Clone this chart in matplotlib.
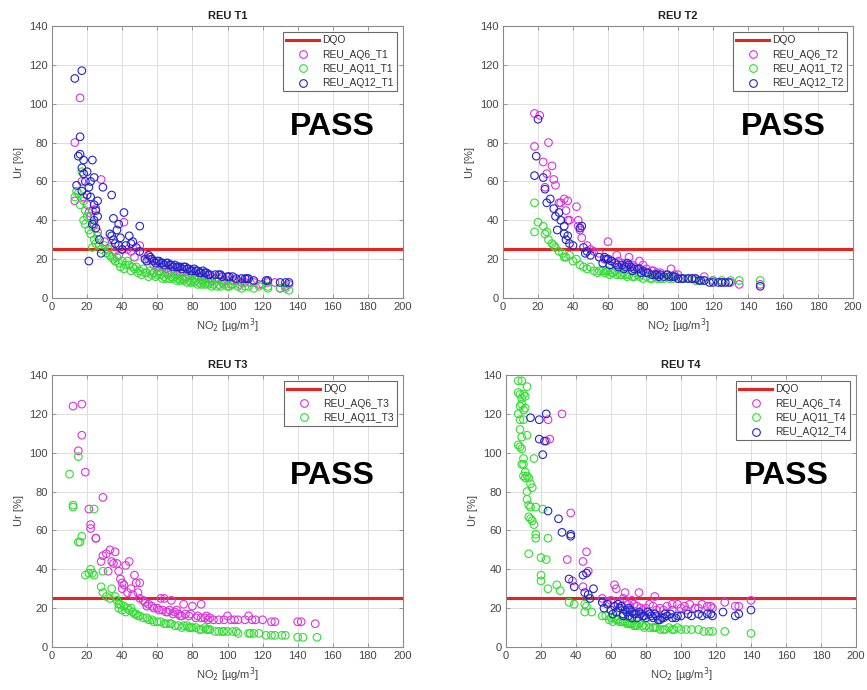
import matplotlib
matplotlib.use("Agg")
import matplotlib.pyplot as plt
from matplotlib.lines import Line2D

plt.rcParams['font.family'] = ['Liberation Sans', 'DejaVu Sans']

DQO = 25
XLIM = (0, 200)
YLIM = (0, 140)
XTICKS = list(range(0, 201, 20))
YTICKS = list(range(0, 141, 20))

# ---------------- T1 ----------------
t1_aq6_x = [13, 16, 13, 17, 28, 23, 21, 25, 41, 40, 43, 50, 47, 45, 55, 52, 18, 20, 22, 24, 26, 30, 33, 36, 38,
            58, 60, 63, 65, 68, 70, 73, 75, 78, 80, 83, 85, 88, 90, 93, 95, 98, 100, 103, 105, 108, 110, 113, 115,
            118, 120, 123, 127, 130, 133, 135, 61, 66, 71, 76, 81, 86, 91, 97, 102, 107]
t1_aq6_y = [80, 103, 50, 60, 61, 45, 44, 46, 39, 25, 25, 27, 21, 24, 20, 23, 52, 48, 42, 38, 34, 29, 26, 24, 22,
            17, 16, 16, 15, 14, 14, 13, 13, 12, 12, 11, 11, 10, 10, 10, 10, 9, 9, 9, 9, 8, 8, 8, 8,
            7, 7, 8, 8, 5, 6, 7, 14, 13, 12, 11, 10, 9, 9, 8, 7, 7]
t1_aq11_x = [14, 13, 15, 16, 17, 18, 19, 18, 19, 20, 21, 22, 23, 24, 25, 26, 27, 28, 23, 30, 31, 32, 33, 34, 35,
             36, 38, 40, 42, 44, 46, 48, 50, 52, 54, 56, 58, 60, 62, 64, 66, 68, 70, 72, 74, 76, 78, 80, 82, 84,
             86, 88, 90, 92, 95, 98, 100, 103, 106, 110, 112, 115, 118, 123, 130, 133, 135, 37, 43, 47, 53, 57,
             61, 67, 73, 79, 87, 96, 39, 41, 45, 49, 51, 55, 59, 63, 65, 69, 71, 75, 77, 81, 83, 85, 89, 91,
             94, 101, 108, 123]
t1_aq11_y = [55, 52, 54, 48, 65, 50, 45, 40, 38, 42, 35, 33, 37, 30, 28, 32, 27, 25, 26, 27, 23, 25, 22, 21, 20,
             19, 18, 19, 17, 17, 16, 16, 14, 15, 13, 14, 13, 12, 12, 11, 12, 11, 11, 10, 10, 10, 9, 9, 9, 8,
             8, 8, 8, 7, 7, 7, 6, 7, 6, 6, 6, 5, 6, 5, 5, 5, 4, 21, 19, 15, 13, 12,
             13, 10, 9, 8, 7, 6, 16, 15, 14, 13, 12, 11, 11, 10, 10, 10, 9, 9, 8, 8, 7, 7, 7, 6,
             6, 6, 5, 6]
t1_aq12_x = [13, 17, 16, 16, 15, 17, 18, 20, 22, 23, 24, 14, 17, 20, 22, 24, 26, 25, 26, 24, 23, 25, 27, 28, 21,
             29, 34, 41, 50, 35, 38, 33, 34, 35, 36, 38, 40, 42, 44, 45, 48, 50, 55, 57, 60, 62, 65, 68, 70, 72,
             75, 78, 80, 82, 85, 88, 90, 95, 97, 100, 105, 108, 110, 112, 115, 122, 123, 130, 133, 135, 53, 58,
             63, 67, 73, 77, 83, 87, 93, 103, 18, 19, 21, 37, 39, 46, 54, 56, 59, 61, 64, 66, 69, 71, 74, 76,
             79, 81, 84, 86, 89, 96, 101, 111]
t1_aq12_y = [113, 117, 83, 74, 73, 67, 71, 65, 60, 71, 62, 58, 55, 53, 52, 48, 50, 45, 42, 40, 38, 36, 30, 23, 19,
             57, 53, 44, 37, 41, 38, 33, 32, 30, 28, 27, 25, 27, 32, 28, 26, 24, 22, 20, 19, 18, 18, 17, 17, 16,
             16, 15, 14, 14, 13, 13, 12, 12, 11, 11, 10, 10, 10, 10, 9, 9, 9, 8, 8, 8, 20, 19,
             18, 17, 16, 15, 14, 13, 12, 11, 64, 60, 57, 35, 31, 29, 19, 21, 18, 19, 17, 18, 16, 16, 15, 16,
             14, 15, 13, 14, 12, 12, 11, 10]

# ---------------- T2 ----------------
t2_aq6_x = [18, 21, 18, 26, 23, 28, 24, 25, 29, 32, 33, 35, 37, 37, 38, 42, 43, 43, 45, 36, 30, 44, 48, 50, 60,
            65, 55, 58, 60, 68, 72, 75, 78, 80, 85, 90, 96, 100, 105, 110, 115, 120, 125, 130, 135, 147, 52, 62,
            70, 82, 88, 93, 108, 66, 74, 86, 98]
t2_aq6_y = [95, 94, 78, 80, 70, 68, 57, 64, 61, 49, 49, 51, 50, 40, 40, 47, 40, 37, 31, 45, 58, 35, 27, 25, 29,
            22, 23, 20, 20, 18, 21, 16, 19, 17, 14, 13, 15, 12, 10, 10, 11, 9, 8, 8, 7, 7, 24, 19,
            17, 15, 13, 12, 10, 19, 17, 14, 12]
t2_aq11_x = [18, 18, 20, 23, 24, 25, 26, 28, 29, 30, 32, 34, 35, 36, 38, 40, 42, 44, 46, 48, 50, 52, 55, 58, 60,
             62, 65, 68, 70, 72, 75, 78, 80, 82, 85, 88, 90, 95, 100, 105, 110, 115, 120, 125, 130, 135, 147, 57,
             63, 67, 74, 77, 84, 92, 97, 54, 59, 61, 64, 69, 71, 79, 87]
t2_aq11_y = [49, 34, 39, 37, 33, 34, 30, 28, 27, 26, 24, 23, 21, 21, 22, 19, 20, 17, 16, 15, 16, 14, 14, 13, 14,
             13, 12, 12, 12, 12, 11, 11, 10, 11, 10, 10, 10, 10, 10, 10, 9, 9, 9, 9, 9, 9, 9, 14,
             13, 12, 11, 12, 10, 10, 10, 13, 14, 12, 14, 13, 11, 12, 11]
t2_aq12_x = [20, 19, 18, 23, 24, 25, 27, 29, 30, 31, 32, 33, 35, 35, 36, 37, 38, 40, 44, 45, 46, 48, 50, 55, 57,
             60, 62, 65, 68, 70, 72, 75, 78, 80, 82, 85, 88, 90, 92, 95, 98, 100, 103, 106, 108, 110, 113, 115,
             118, 120, 123, 125, 127, 129, 147, 47, 58, 64, 73, 77, 87, 97, 112, 59, 61, 66, 69, 71, 74, 79, 83,
             89, 94, 102]
t2_aq12_y = [92, 73, 63, 62, 56, 49, 51, 46, 42, 35, 44, 40, 37, 33, 30, 32, 28, 27, 36, 37, 26, 24, 22, 21, 18,
             20, 19, 17, 17, 16, 17, 15, 15, 14, 13, 12, 12, 12, 11, 11, 11, 10, 10, 10, 10, 10, 9, 9,
             8, 8, 8, 8, 8, 8, 6, 23, 21, 18, 16, 15, 12, 11, 9, 20, 17, 16, 15, 18, 14, 13, 13,
             11, 12, 10]

# ---------------- T3 ----------------
t3_aq6_x = [12, 17, 17, 15, 19, 21, 22, 22, 25, 29, 28, 29, 31, 33, 34, 35, 36, 37, 38, 32, 40, 39, 40, 41, 42,
            44, 45, 46, 47, 48, 49, 50, 50, 52, 55, 57, 60, 62, 64, 65, 67, 68, 70, 72, 75, 76, 78, 80, 82, 85,
            85, 88, 90, 92, 95, 98, 100, 102, 104, 106, 110, 112, 114, 116, 120, 125, 127, 140, 142, 150, 25,
            43, 53, 58, 63, 73, 87, 54, 61, 66, 69, 71, 74, 79, 83, 89]
t3_aq6_y = [124, 125, 109, 101, 90, 71, 63, 61, 56, 77, 44, 47, 48, 50, 44, 43, 49, 43, 39, 39, 30, 35, 33, 32, 42,
            44, 30, 27, 37, 33, 28, 25, 33, 24, 22, 21, 20, 25, 25, 18, 19, 24, 18, 17, 22, 17, 16, 21, 15, 22,
            15, 16, 15, 14, 14, 14, 16, 14, 14, 14, 14, 16, 14, 14, 14, 13, 13, 13, 13, 12, 56,
            28, 23, 20, 19, 16, 15, 21, 19, 18, 17, 19, 16, 17, 16, 14]
t3_aq11_x = [10, 15, 12, 12, 15, 16, 17, 19, 22, 21, 23, 24, 24, 29, 28, 29, 31, 33, 34, 36, 38, 38, 40, 42, 44,
             46, 48, 50, 52, 55, 58, 60, 62, 65, 68, 70, 72, 75, 78, 80, 82, 85, 88, 90, 93, 95, 98, 100, 103,
             106, 112, 115, 118, 122, 125, 127, 131, 133, 140, 143, 151, 37, 39, 45, 54, 64, 74, 84, 113, 41,
             43, 47, 49, 57, 67, 77, 79, 87, 89, 97, 105]
t3_aq11_y = [89, 98, 73, 72, 54, 54, 57, 37, 40, 38, 38, 71, 37, 39, 31, 28, 26, 25, 30, 26, 22, 20, 19, 18, 19,
             18, 17, 16, 15, 14, 13, 13, 13, 12, 12, 11, 11, 11, 10, 10, 10, 9, 9, 9, 8, 8, 8, 8, 8,
             7, 7, 7, 7, 6, 6, 6, 6, 6, 5, 5, 5, 24, 22, 20, 15, 12, 10, 9, 7, 21,
             20, 17, 16, 14, 12, 11, 10, 10, 9, 8, 8]

# ---------------- T4 ----------------
t4_aq6_x = [24, 32, 25, 23, 37, 35, 44, 46, 47, 44, 38, 62, 63, 68, 76, 85, 55, 60, 65, 70, 72, 75, 80, 82, 88,
            92, 95, 98, 100, 103, 105, 108, 112, 115, 117, 125, 131, 133, 140, 90, 95, 110, 118, 58, 66, 78,
            67, 71, 73, 77, 84, 86, 102]
t4_aq6_y = [117, 120, 107, 106, 69, 45, 44, 49, 39, 31, 34, 32, 30, 28, 28, 26, 25, 24, 23, 22, 24, 21, 20, 22, 20,
            21, 22, 22, 20, 19, 22, 20, 22, 21, 21, 23, 21, 21, 24, 19, 19, 20, 20, 23, 21, 19,
            25, 20, 22, 20, 21, 19, 21]
t4_aq11_x = [7, 9, 7, 8, 9, 10, 11, 12, 8, 9, 10, 11, 7, 8, 10, 8, 9, 12, 7, 8, 9, 10, 16, 9, 10, 11, 10, 11, 12,
             13, 14, 15, 12, 12, 13, 14, 17, 13, 14, 15, 16, 17, 17, 21, 24, 13, 20, 23, 20, 20, 24, 29, 31, 36,
             39, 45, 45, 49, 46, 55, 57, 60, 62, 64, 66, 68, 70, 72, 75, 78, 80, 82, 85, 88, 90, 93, 95, 98,
             100, 103, 106, 110, 113, 116, 118, 125, 140, 59, 65, 69, 74, 84, 96, 61, 63, 67, 71, 73, 76, 79,
             86, 91]
t4_aq11_y = [137, 137, 131, 130, 128, 130, 129, 134, 124, 125, 122, 123, 120, 117, 117, 112, 108, 109, 104, 103,
             102, 97, 97, 94, 94, 90, 88, 87, 88, 87, 84, 82, 80, 76, 73, 72, 72, 67, 66, 65, 63, 58, 56, 71,
             56, 48, 46, 45, 37, 34, 30, 32, 29, 23, 22, 22, 18, 18, 21, 16, 16, 15, 15, 14, 13, 13, 12, 12, 11,
             11, 11, 10, 10, 9, 9, 10, 9, 10, 9, 9, 9, 9, 8, 8, 8, 8, 7, 14, 13, 12, 11, 10, 9, 13,
             14, 13, 12, 11, 12, 10, 10, 9]
t4_aq12_x = [14, 19, 23, 19, 22, 21, 24, 30, 32, 37, 37, 36, 39, 44, 46, 45, 47, 48, 50, 55, 56, 58, 60, 62, 63,
             65, 67, 68, 70, 70, 72, 74, 75, 77, 78, 80, 82, 84, 86, 88, 90, 92, 95, 98, 100, 104, 106, 110,
             112, 115, 117, 118, 124, 131, 133, 140, 64, 66, 69, 71, 73, 76, 79, 81, 85, 89, 94, 61, 67, 72,
             83, 87, 91, 97]
t4_aq12_y = [118, 117, 120, 107, 106, 99, 70, 66, 59, 57, 58, 35, 31, 37, 38, 28, 27, 25, 30, 23, 20, 22, 19, 21,
             18, 20, 17, 19, 16, 20, 18, 17, 15, 17, 16, 15, 17, 15, 16, 14, 15, 16, 15, 16, 16, 17, 16, 17,
             16, 17, 17, 16, 18, 16, 17, 19, 22, 21, 18, 19, 17, 18, 16, 18, 17, 15, 17, 17, 16, 15,
             16, 14, 17, 15]

panels = [
    ("REU T1", [("REU_AQ6_T1", t1_aq6_x, t1_aq6_y, 'm'),
                ("REU_AQ11_T1", t1_aq11_x, t1_aq11_y, 'g'),
                ("REU_AQ12_T1", t1_aq12_x, t1_aq12_y, 'b')]),
    ("REU T2", [("REU_AQ6_T2", t2_aq6_x, t2_aq6_y, 'm'),
                ("REU_AQ11_T2", t2_aq11_x, t2_aq11_y, 'g'),
                ("REU_AQ12_T2", t2_aq12_x, t2_aq12_y, 'b')]),
    ("REU T3", [("REU_AQ6_T3", t3_aq6_x, t3_aq6_y, 'm'),
                ("REU_AQ11_T3", t3_aq11_x, t3_aq11_y, 'g')]),
    ("REU T4", [("REU_AQ6_T4", t4_aq6_x, t4_aq6_y, 'm'),
                ("REU_AQ11_T4", t4_aq11_x, t4_aq11_y, 'g'),
                ("REU_AQ12_T4", t4_aq12_x, t4_aq12_y, 'b')]),
]

COLORS = {'m': '#dd33dd', 'g': '#33dd33', 'b': '#2424c8'}
RED = '#e8231f'

W, H = 867, 690
fig = plt.figure(figsize=(W / 100, H / 100), dpi=100)
# axes boxes in pixels: left, top, right, bottom
boxes = [(52, 26, 403, 298), (503, 26, 853, 298), (52, 375, 403, 647), (506, 375, 856, 647)]

for (title, series), (l, t, r, b) in zip(panels, boxes):
    ax = fig.add_axes([l / W, 1 - b / H, (r - l) / W, (b - t) / H])
    ax.set_xlim(*XLIM)
    ax.set_ylim(*YLIM)
    ax.set_xticks(XTICKS)
    ax.set_yticks(YTICKS)
    ax.grid(True, color='#dedede', linewidth=0.7)
    ax.set_axisbelow(True)
    for s in ax.spines.values():
        s.set_color('#8a8a8a')
        s.set_linewidth(0.8)
    ax.tick_params(direction='in', length=3, width=0.6, color='#8a8a8a', labelsize=8,
                   labelcolor='#444444', top=True, right=True, pad=3)
    handles = []
    ax.plot(XLIM, [DQO, DQO], color=RED, linewidth=2.2, label='DQO', zorder=2)
    handles.append(Line2D([0], [0], color=RED, linewidth=2.2))
    labels = ['DQO']
    for name, xs, ys, c in series:
        ax.scatter(xs, ys, s=30, facecolors='none', edgecolors=COLORS[c], linewidths=0.8, zorder=3)
        handles.append(Line2D([0], [0], linestyle='none', marker='o', markersize=5.5,
                              markerfacecolor='none', markeredgecolor=COLORS[c], markeredgewidth=0.8))
        labels.append(name)
    ax.set_title(title, fontsize=8, fontweight='bold', color='#222222', pad=5)
    ax.set_xlabel('NO$_2$ [µg/m$^3$]', fontsize=8, color='#444444', labelpad=3)
    ax.set_ylabel('Ur [%]', fontsize=8, color='#444444', labelpad=4)
    ax.text(160, 88, 'PASS', fontsize=23, fontweight='bold', ha='center', va='center', color='black')
    leg = ax.legend(handles, labels, loc='upper right', fontsize=7.4, frameon=True, fancybox=False,
                    edgecolor='#444444', handlelength=3.2, labelspacing=0.42, borderpad=0.3,
                    handletextpad=0.3, borderaxespad=0.6)
    leg.get_frame().set_linewidth(0.8)
    for txt in leg.get_texts():
        txt.set_color('#333333')

fig.savefig('out.png', dpi=100)
